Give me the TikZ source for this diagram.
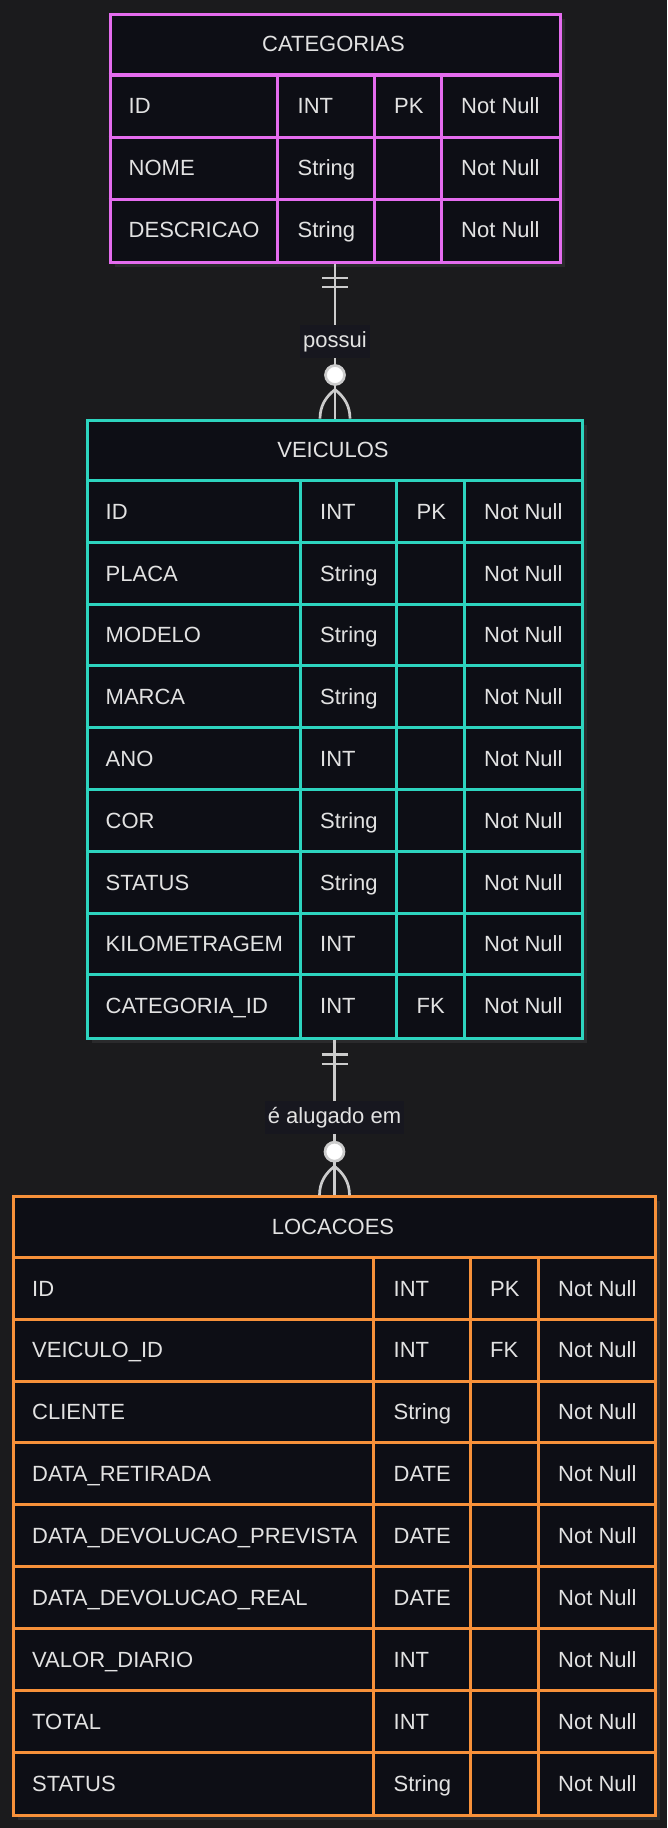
\documentclass[tikz,border=0pt]{standalone}
\usepackage{fontspec}
\setmainfont{Liberation Sans}
\usetikzlibrary{calc}
\definecolor{bgc}{HTML}{1B1B1D}
\definecolor{tfill}{HTML}{0D0E15}
\definecolor{shadowc}{HTML}{2A2A2C}
\definecolor{txtc}{HTML}{E2E2E2}
\definecolor{linec}{HTML}{CCCCCC}
\definecolor{lblbg}{HTML}{17171F}
\definecolor{pinkc}{HTML}{E46CEE}
\definecolor{tealc}{HTML}{2DD4BF}
\definecolor{orangec}{HTML}{F7913A}
\newcommand{\tf}{\fontsize{22}{26.4}\selectfont}
% #1 name #2 color #3 L #4 T #5 R #6 nrows #7 c1 #8 c2 #9 c3 ; \rowH set before
\newcommand{\ertable}[9]{%
  \pgfmathsetmacro{\tB}{#4+#6*\rowH}%
  \pgfmathtruncatemacro{\tN}{#6-1}%
  \fill[shadowc] (#3+6,#4+6) rectangle (#5+6,\tB+6);
  \node[tblbox, draw=#2, minimum width={#5-#3}, minimum height={\tB-#4}, anchor=north west] (#1) at (#3,#4) {};
  \foreach \k in {1,...,\tN}{\draw[gridln, draw=#2] (#3,#4+\k*\rowH) -- (#5,#4+\k*\rowH);}
  \foreach \cc in {#7,#8,#9}{\draw[gridln, draw=#2] (\cc,#4+\rowH) -- (\cc,\tB);}
}
\begin{document}
\begin{tikzpicture}[x=1pt,y=-1pt,
  tblbox/.style={rectangle, fill=tfill, line width=3pt, inner sep=0pt},
  gridln/.style={line width=3pt},
  cell/.style={anchor=west, inner sep=0pt, text height=15.8pt, text depth=0pt, text=txtc, font=\tf},
  ertitle/.style={cell, anchor=center},
  conn/.style={draw=linec, line width=2.7pt},
  lbl/.style={fill=lblbg, text=txtc, font=\tf, inner xsep=3pt, inner ysep=0pt, minimum height=33pt, text height=16pt, text depth=4.6pt},
  circ/.style={circle, fill=white, draw=linec, line width=2.7pt, minimum size=19pt, inner sep=0pt}]
\useasboundingbox (0,0) rectangle (667,1828);
\fill[bgc] (0,0) rectangle (667,1828);

% ---------- CATEGORIAS ----------
\def\rowH{62}
\ertable{cat}{pinkc}{108.5}{13}{558.5}{4}{277.5}{374}{441}
\node[ertitle] (cat-t) at (333.5,13+31) {CATEGORIAS};
\foreach \a/\b/\c/\d [count=\i] in {ID/INT/PK/Not Null, NOME/String//Not Null, DESCRICAO/String//Not Null}{
  \node[cell] (cat-\i-a) at (128.5,13+\i*62+31) {\a};
  \node[cell] (cat-\i-b) at (297.5,13+\i*62+31) {\b};
  \ifx\c\empty\else\node[cell] (cat-\i-c) at (394,13+\i*62+31) {\c};\fi
  \node[cell] (cat-\i-d) at (461,13+\i*62+31) {\d};
}

% ---------- VEICULOS ----------
\def\rowH{61.8}
\ertable{veh}{tealc}{85.5}{418.6}{580.5}{10}{300}{396.5}{464}
\node[ertitle] (veh-t) at (333,418.6+30.9) {VEICULOS};
\foreach \a/\b/\c/\d [count=\i] in {ID/INT/PK/Not Null, PLACA/String//Not Null, MODELO/String//Not Null, MARCA/String//Not Null, ANO/INT//Not Null, COR/String//Not Null, STATUS/String//Not Null, KILOMETRAGEM/INT//Not Null, CATEGORIA\_ID/INT/FK/Not Null}{
  \node[cell] (veh-\i-a) at (105.5,418.6+\i*61.8+30.9) {\a};
  \node[cell] (veh-\i-b) at (320,418.6+\i*61.8+30.9) {\b};
  \ifx\c\empty\else\node[cell] (veh-\i-c) at (416.5,418.6+\i*61.8+30.9) {\c};\fi
  \node[cell] (veh-\i-d) at (484,418.6+\i*61.8+30.9) {\d};
}

% ---------- LOCACOES ----------
\def\rowH{61.9}
\ertable{loc}{orangec}{12}{1195.3}{654}{10}{373.5}{470}{538}
\node[ertitle] (loc-t) at (333,1195.3+30.95) {LOCACOES};
\foreach \a/\b/\c/\d [count=\i] in {ID/INT/PK/Not Null, VEICULO\_ID/INT/FK/Not Null, CLIENTE/String//Not Null, DATA\_RETIRADA/DATE//Not Null, DATA\_DEVOLUCAO\_PREVISTA/DATE//Not Null, DATA\_DEVOLUCAO\_REAL/DATE//Not Null, VALOR\_DIARIO/INT//Not Null, TOTAL/INT//Not Null, STATUS/String//Not Null}{
  \node[cell] (loc-\i-a) at (32,1195.3+\i*61.9+30.95) {\a};
  \node[cell] (loc-\i-b) at (393.5,1195.3+\i*61.9+30.95) {\b};
  \ifx\c\empty\else\node[cell] (loc-\i-c) at (490,1195.3+\i*61.9+30.95) {\c};\fi
  \node[cell] (loc-\i-d) at (558,1195.3+\i*61.9+30.95) {\d};
}

% ---------- relationship 1: CATEGORIAS ||--o{ VEICULOS ----------
\coordinate (r1end) at (cat.south |- veh.north);
\draw[conn] (cat.south) -- (r1end);
\draw[conn] ([xshift=-13pt,yshift=-14pt]cat.south) -- ([xshift=13pt,yshift=-14pt]cat.south);
\draw[conn] ([xshift=-13pt,yshift=-23pt]cat.south) -- ([xshift=13pt,yshift=-23pt]cat.south);
\draw[conn] ([yshift=29pt]r1end) .. controls ([xshift=-9pt,yshift=22pt]r1end) and ([xshift=-15pt,yshift=13pt]r1end) .. ([xshift=-15pt]r1end);
\draw[conn] ([yshift=29pt]r1end) .. controls ([xshift=9pt,yshift=22pt]r1end) and ([xshift=15pt,yshift=13pt]r1end) .. ([xshift=15pt]r1end);
\node[lbl] (lab1) at ($(cat.south)!0.5!(r1end)$) {possui};
\node[circ] (o1) at ([yshift=43.6pt]r1end) {};

% ---------- relationship 2: VEICULOS ||--o{ LOCACOES ----------
\coordinate (r2end) at (veh.south |- loc.north);
\draw[conn] (veh.south) -- (r2end);
\draw[conn] ([xshift=-13pt,yshift=-15pt]veh.south) -- ([xshift=13pt,yshift=-15pt]veh.south);
\draw[conn] ([xshift=-13pt,yshift=-24.5pt]veh.south) -- ([xshift=13pt,yshift=-24.5pt]veh.south);
\draw[conn] ([yshift=29pt]r2end) .. controls ([xshift=-9pt,yshift=22pt]r2end) and ([xshift=-15pt,yshift=13pt]r2end) .. ([xshift=-15pt]r2end);
\draw[conn] ([yshift=29pt]r2end) .. controls ([xshift=9pt,yshift=22pt]r2end) and ([xshift=15pt,yshift=13pt]r2end) .. ([xshift=15pt]r2end);
\node[lbl] (lab2) at ($(veh.south)!0.5!(r2end)$) {é alugado em};
\node[circ] (o2) at ([yshift=43.6pt]r2end) {};
\end{tikzpicture}
\end{document}
